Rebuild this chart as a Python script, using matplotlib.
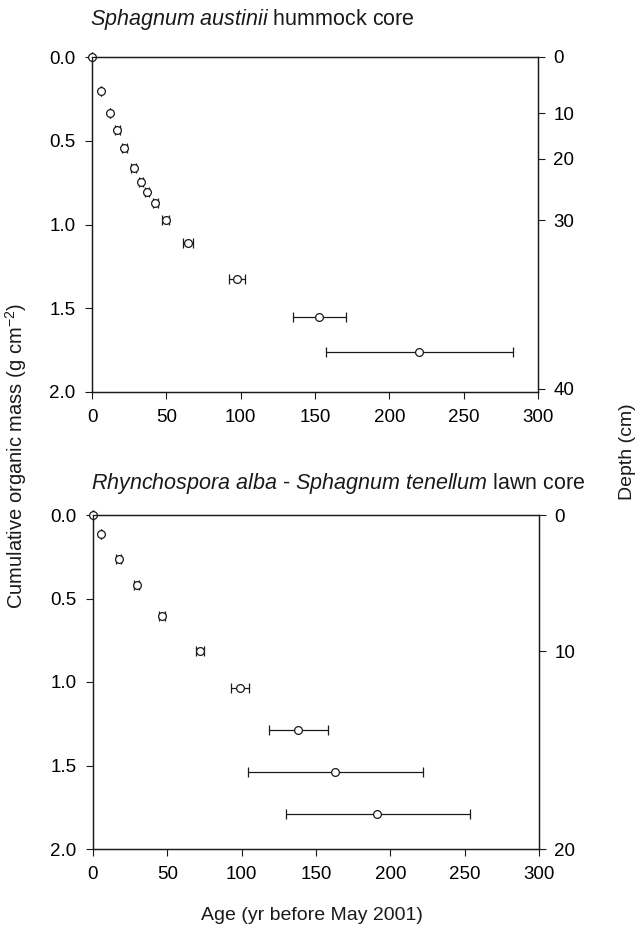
import matplotlib
matplotlib.use("Agg")
import matplotlib.pyplot as plt
import numpy as np

plt.rcParams['font.family'] = ['Liberation Sans', 'DejaVu Sans']
plt.rcParams['mathtext.fontset'] = 'custom'
plt.rcParams['mathtext.rm'] = 'Liberation Sans'
plt.rcParams['mathtext.it'] = 'Liberation Sans:italic'

# ---- Top panel: Sphagnum austinii hummock core ----
top_age = [0, 6.0, 11.8, 16.9, 21.8, 28.1, 33.0, 37.0, 42.5, 49.5, 64.5, 97.5, 152.8, 219.8]
top_mass = [0, 0.205, 0.333, 0.438, 0.544, 0.665, 0.744, 0.803, 0.872, 0.975, 1.112, 1.324, 1.554, 1.764]
top_err_lo = [0, 0, 0, 1.6, 1.6, 1.6, 1.6, 1.6, 1.6, 2.2, 3.4, 5.4, 17.7, 62.7]
top_err_hi = [0, 0, 0, 1.6, 1.6, 1.6, 1.6, 1.6, 1.6, 2.2, 3.4, 5.2, 18.2, 63.3]
top_depth_labels = [0, 10, 20, 30, 40]
top_depth_mass = [0, 0.336, 0.607, 0.974, 1.98]

# ---- Bottom panel: Rhynchospora alba - Sphagnum tenellum lawn core ----
bot_age = [0, 5.2, 17.2, 29.5, 46.5, 72.0, 98.8, 138.1, 162.6, 191.1]
bot_mass = [0, 0.116, 0.266, 0.420, 0.604, 0.815, 1.034, 1.288, 1.541, 1.789]
bot_err_lo = [0, 0, 1.6, 1.6, 2.0, 2.5, 5.8, 20.0, 58.6, 61.3]
bot_err_hi = [0, 0, 1.6, 1.6, 2.0, 2.5, 6.3, 19.8, 59.3, 62.2]
bot_depth_labels = [0, 10, 20]
bot_depth_mass = [0, 0.815, 2.0]

x_ticks = [0, 50, 100, 150, 200, 250, 300]
y_ticks = [0.0, 0.5, 1.0, 1.5, 2.0]

W, H = 639, 939
fig = plt.figure(figsize=(W / 100, H / 100), dpi=100)

def px_axes(left, top, right, bottom):
    return fig.add_axes([left / W, 1 - bottom / H, (right - left) / W, (bottom - top) / H])

ax1 = px_axes(92, 57, 538, 392)
ax2 = px_axes(93, 515, 539, 849)

fs_tick = 13.5
fs_lab = 14
fs_title = 15.5
col = '#1a1a1a'

def draw(ax, age, mass, elo, ehi, dlab, dmass, title, title_y):
    ax.errorbar(age, mass, xerr=[elo, ehi], fmt='o', mfc='white', mec=col, ms=5.6,
                mew=0.9, ecolor=col, elinewidth=0.9, capsize=3.6, capthick=0.9,
                clip_on=False, zorder=3)
    ax.set_xlim(0, 300)
    ax.set_ylim(2.0, 0.0)
    ax.set_xticks(x_ticks)
    ax.set_xticklabels([str(v) for v in x_ticks], fontsize=fs_tick)
    ax.set_yticks(y_ticks)
    ax.set_yticklabels([f"{v:.1f}" for v in y_ticks], fontsize=fs_tick)
    ax.tick_params(direction='out', length=5, width=0.8, color=col, pad=7)
    for s in ax.spines.values():
        s.set_linewidth(0.9)
        s.set_color(col)
    axr = ax.twinx()
    axr.set_ylim(2.0, 0.0)
    axr.set_yticks(dmass)
    axr.set_yticklabels([str(v) for v in dlab], fontsize=fs_tick)
    axr.tick_params(direction='out', length=5, width=0.8, color=col, pad=6)
    for s in axr.spines.values():
        s.set_linewidth(0.9)
        s.set_color(col)
    fig.text(ax.get_position().x0 - 2 / W, 1 - title_y / H, title, fontsize=fs_title,
             ha='left', va='center', color=col)

draw(ax1, top_age, top_mass, top_err_lo, top_err_hi, top_depth_labels, top_depth_mass,
     r"$\it{Sphagnum\ austinii}$ hummock core", 19)
draw(ax2, bot_age, bot_mass, bot_err_lo, bot_err_hi, bot_depth_labels, bot_depth_mass,
     r"$\it{Rhynchospora\ alba}$ - $\it{Sphagnum\ tenellum}$ lawn core", 483)

fig.text(16 / W, 1 - 456 / H, r"Cumulative organic mass (g cm$^{-2}$)", rotation=90,
         ha='center', va='center', fontsize=14.5, color=col)
fig.text(627 / W, 1 - 452 / H, "Depth (cm)", rotation=90, ha='center', va='center',
         fontsize=fs_lab, color=col)
fig.text(312 / W, 1 - 916 / H, "Age (yr before May 2001)", ha='center', va='center',
         fontsize=fs_lab, color=col)

fig.savefig("out.png", dpi=100)
